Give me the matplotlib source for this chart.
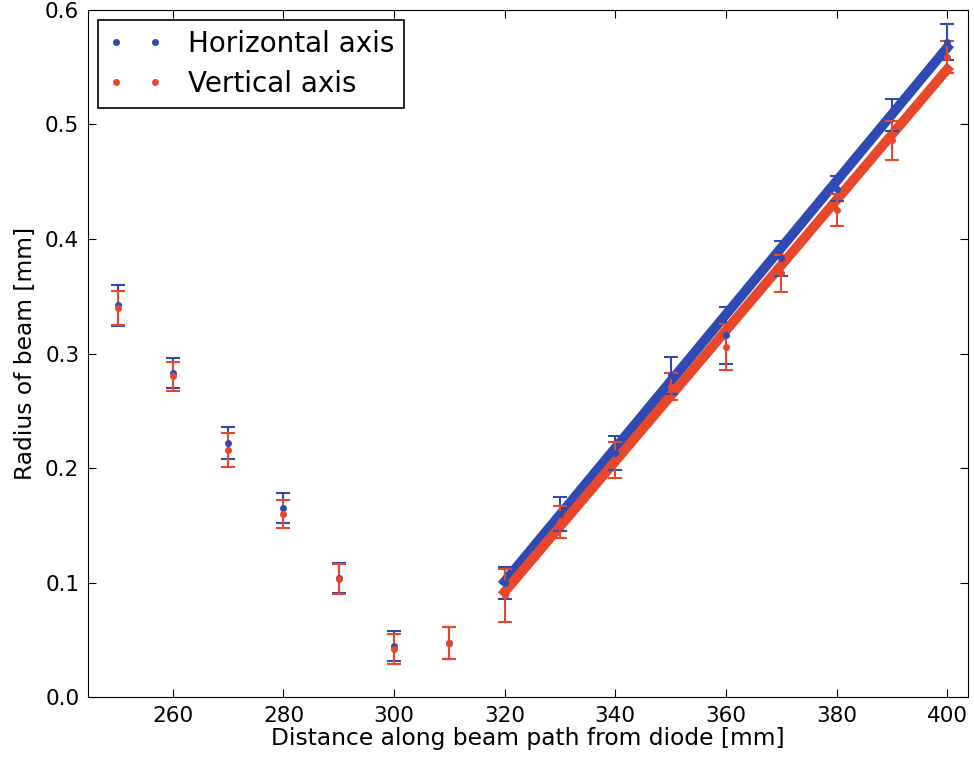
import numpy as np
import matplotlib.pyplot as plt

# distance along beam path [mm]
dist = [250, 260, 270, 280, 290, 300, 310, 320, 330, 340, 350, 360, 370, 380, 390, 400]

# horizontal axis radius and error [mm]
r_h = [0.342, 0.283, 0.222, 0.165, 0.104, 0.045, 0.047, 0.100, 0.160, 0.213, 0.281, 0.316, 0.383, 0.444, 0.508, 0.572]
e_h = [0.018, 0.013, 0.014, 0.013, 0.013, 0.013, 0.014, 0.014, 0.015, 0.015, 0.016, 0.025, 0.015, 0.011, 0.014, 0.016]

# vertical axis radius and error [mm]
r_v = [0.340, 0.280, 0.216, 0.160, 0.103, 0.042, 0.047, 0.089, 0.153, 0.207, 0.271, 0.306, 0.370, 0.425, 0.486, 0.559]
e_v = [0.015, 0.013, 0.015, 0.012, 0.013, 0.013, 0.014, 0.023, 0.014, 0.016, 0.012, 0.020, 0.016, 0.014, 0.017, 0.014]

# linear fits (endpoints)
fit_x = [320, 400]
fit_h = [0.101, 0.567]
fit_v = [0.092, 0.548]

blue = '#2f4bb3'
red = '#e8472c'

fig = plt.figure(figsize=(9.74, 7.57), dpi=100)
ax = fig.add_axes([0.090, 0.079, 0.904, 0.908])

ax.errorbar(dist, r_h, yerr=e_h, fmt='o', color=blue, ms=4, capsize=5, elinewidth=1.5,
            capthick=1.5, label='Horizontal axis', zorder=3)
ax.errorbar(dist, r_v, yerr=e_v, fmt='o', color=red, ms=4, capsize=5, elinewidth=1.5,
            capthick=1.5, label='Vertical axis', zorder=3)
ax.plot(fit_x, fit_h, '-', color=blue, lw=7, zorder=2)
ax.plot(fit_x, fit_v, '-', color=red, lw=7, zorder=2)

ax.set_xlim(244.6, 403.8)
ax.set_ylim(0, 0.6)
ax.set_xticks(np.arange(260, 401, 20))
ax.set_yticks(np.arange(0, 0.61, 0.1))
ax.tick_params(direction='in', top=True, right=True, labelsize=15.5, length=6, pad=6)
ax.set_xlabel('Distance along beam path from diode [mm]', fontsize=16.8, labelpad=1)
ax.set_ylabel('Radius of beam [mm]', fontsize=16.8, labelpad=6)

handles, labels = ax.get_legend_handles_labels()
handles = [h[0] for h in handles]
leg = ax.legend(handles, labels, loc='upper left', numpoints=2, fontsize=20, fancybox=False,
                edgecolor='black', framealpha=1, handletextpad=0.9, borderpad=0.35,
                labelspacing=0.45, handlelength=2.0, borderaxespad=0.36)
leg.get_frame().set_linewidth(1.2)

fig.savefig('out.png', dpi=100)
